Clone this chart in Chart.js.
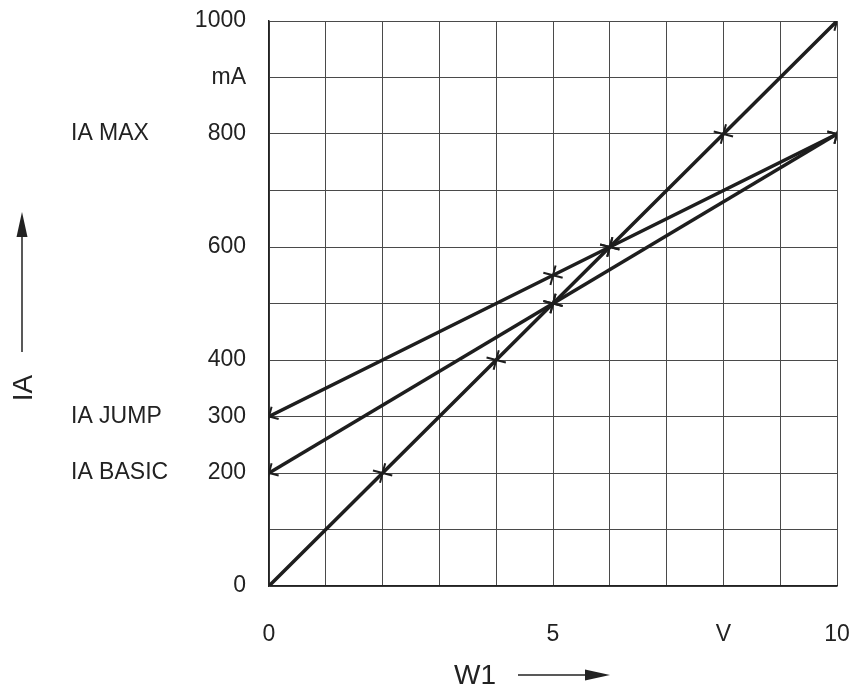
<!DOCTYPE html>
<html>
<head>
<meta charset="utf-8">
<script src="https://cdn.jsdelivr.net/npm/chart.js@4/dist/chart.umd.min.js"></script>
<style>
  html, body { margin: 0; padding: 0; background: #fff; }
  #wrap { width: 851px; height: 691px; }
</style>
</head>
<body>
<div id="wrap"><canvas id="c" width="851" height="691"></canvas></div>
<script>
// Data
const lineDirectX = [0, 2, 4, 5, 6, 8, 10];
const lineDirectY = [0, 200, 400, 500, 600, 800, 1000];
const lineDirectMarks = [0, 1, 1, 1, 1, 1, 1];

const lineBasicX = [0, 5, 10];
const lineBasicY = [200, 500, 800];

const lineJumpX = [0, 5, 6, 10];
const lineJumpY = [300, 550, 600, 800];

const yTickLabels = { 0: '0', 200: '200', 300: '300', 400: '400', 600: '600', 800: '800', 900: 'mA', 1000: '1000' };
const xTickLabels = { 0: '0', 5: '5', 8: 'V', 10: '10' };
const sideLabels = [
  { text: 'IA MAX', value: 800 },
  { text: 'IA JUMP', value: 300 },
  { text: 'IA BASIC', value: 200 }
];
const yTitle = 'IA';
const xTitle = 'W1';

const FONT = '"Liberation Sans", Arial, Helvetica, sans-serif';
const INK = '#1e1e1e';

function pts(xs, ys) { return xs.map((x, i) => ({ x: x, y: ys[i] })); }

const markStyle = {
  showLine: true,
  borderColor: INK,
  borderWidth: 3.5,
  pointStyle: 'cross',
  pointRotation: 15,
  pointRadius: 10,
  pointBorderWidth: 2,
  pointBorderColor: INK,
  pointBackgroundColor: INK,
  fill: false,
  tension: 0
};

const extras = {
  id: 'extras',
  afterDraw(chart) {
    const ctx = chart.ctx;
    const ys = chart.scales.y;
    ctx.save();
    ctx.fillStyle = '#222';
    ctx.strokeStyle = '#222';
    ctx.font = '23px ' + FONT;
    ctx.textBaseline = 'middle';
    ctx.textAlign = 'left';
    sideLabels.forEach(l => ctx.fillText(l.text, 71, ys.getPixelForValue(l.value)));

    // Y title rotated
    ctx.save();
    ctx.translate(24, 388);
    ctx.rotate(-Math.PI / 2);
    ctx.textAlign = 'center';
    ctx.font = '28px ' + FONT;
    ctx.fillText(yTitle, 0, 0);
    ctx.restore();

    // vertical arrow
    ctx.lineWidth = 1.5;
    ctx.beginPath();
    ctx.moveTo(22, 352);
    ctx.lineTo(22, 232);
    ctx.stroke();
    ctx.beginPath();
    ctx.moveTo(22, 212);
    ctx.lineTo(16.5, 237);
    ctx.lineTo(27.5, 237);
    ctx.closePath();
    ctx.fill();

    // X title
    ctx.textAlign = 'center';
    ctx.font = '28px ' + FONT;
    ctx.fillText(xTitle, 475, 676);

    // horizontal arrow
    ctx.beginPath();
    ctx.moveTo(518, 675);
    ctx.lineTo(590, 675);
    ctx.stroke();
    ctx.beginPath();
    ctx.moveTo(610, 675);
    ctx.lineTo(585, 669.5);
    ctx.lineTo(585, 680.5);
    ctx.closePath();
    ctx.fill();
    ctx.restore();
  }
};

new Chart(document.getElementById('c'), {
  type: 'scatter',
  data: {
    datasets: [
      Object.assign({ label: 'direct', data: pts(lineDirectX, lineDirectY) }, markStyle,
        { pointRadius: lineDirectMarks.map(m => m ? 10 : 0) }),
      Object.assign({ label: 'basic', data: pts(lineBasicX, lineBasicY) }, markStyle),
      Object.assign({ label: 'jump', data: pts(lineJumpX, lineJumpY) }, markStyle)
    ]
  },
  options: {
    responsive: false,
    animation: false,
    layout: { padding: { top: 21, right: 14, left: 0, bottom: 0 } },
    plugins: { legend: { display: false }, tooltip: { enabled: false } },
    scales: {
      x: {
        type: 'linear', min: 0, max: 10,
        afterFit(s) { s.height = 105; s.paddingLeft = 0; s.paddingRight = 0; },
        afterBuildTicks(s) { s.ticks = Array.from({ length: 11 }, (_, i) => ({ value: i })); },
        grid: { color: '#4a4a4a', lineWidth: 1, drawTicks: false },
        border: { display: true, color: '#222', width: 1.5 },
        ticks: {
          padding: 35, color: '#222', maxRotation: 0, autoSkip: false,
          font: { family: FONT, size: 23 },
          callback: v => (xTickLabels[v] !== undefined ? xTickLabels[v] : '')
        }
      },
      y: {
        type: 'linear', min: 0, max: 1000,
        afterFit(s) { s.width = 269; s.paddingTop = 0; s.paddingBottom = 0; },
        afterBuildTicks(s) { s.ticks = Array.from({ length: 11 }, (_, i) => ({ value: i * 100 })); },
        grid: { color: '#4a4a4a', lineWidth: 1, drawTicks: false },
        border: { display: true, color: '#222', width: 1.5 },
        ticks: {
          padding: 23, color: '#222', autoSkip: false,
          font: { family: FONT, size: 23 },
          callback: v => (yTickLabels[v] !== undefined ? yTickLabels[v] : '')
        }
      }
    }
  },
  plugins: [extras]
});
</script>
</body>
</html>
